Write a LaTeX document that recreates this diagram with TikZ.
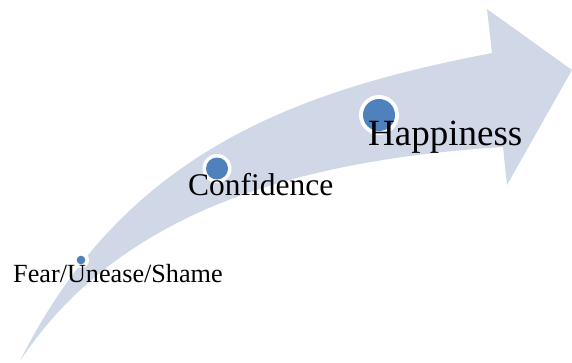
\documentclass[tikz,border=0pt]{standalone}
\usepackage{fontspec}
\setmainfont{Liberation Serif}
\definecolor{arrowfill}{RGB}{208,216,232}
\definecolor{dotblue}{RGB}{79,129,189}
\tikzset{
  ring/.style={circle, fill=white, inner sep=0pt},
  dot/.style={circle, fill=dotblue, inner sep=0pt},
  label/.style={anchor=base west, inner sep=0pt, text=black}
}
\begin{document}
\begin{tikzpicture}[x=1pt,y=-1pt]
\useasboundingbox (0,0) rectangle (572,362);
\fill[arrowfill]
  (20,361) .. controls (125,150) and (300,90) .. (492,53)
  -- (487,9) -- (572,70) -- (507,185) -- (503,147)
  .. controls (300,160) and (120,210) .. (20,361)
  -- cycle;
% markers
\node[ring, minimum size=16pt] (r1) at (81,260) {};
\node[dot, minimum size=8.6pt] (d1) at (r1) {};
\node[ring, minimum size=29pt] (r2) at (217,168.5) {};
\node[dot, minimum size=22pt] (d2) at (r2) {};
\node[ring, minimum size=40pt] (r3) at (379,115) {};
\node[dot, minimum size=32pt] (d3) at (r3) {};
% labels
\node[label, font=\fontsize{26.2}{30}\selectfont] (t1) at (13,282) {Fear/Unease/Shame};
\node[label, font=\fontsize{31.5}{36}\selectfont] (t2) at (188,195) {Confidence};
\node[label, font=\fontsize{37}{42}\selectfont] (t3) at (368,145) {Happiness};
\end{tikzpicture}
\end{document}
